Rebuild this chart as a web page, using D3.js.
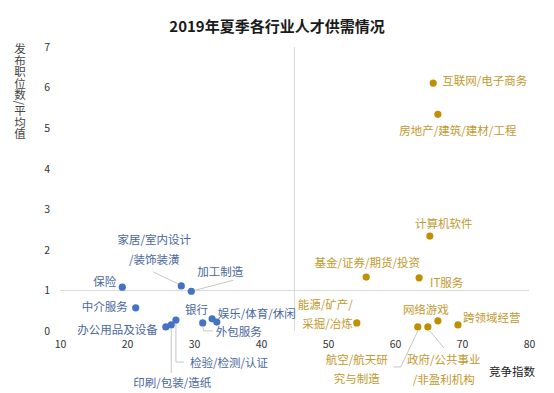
<!DOCTYPE html>
<html><head><meta charset="utf-8">
<script src="https://cdn.jsdelivr.net/npm/d3@7"></script>
<style>
body{margin:0;background:#fff}
svg{display:block}
text{font-family:"Noto Sans CJK SC","Noto Sans",sans-serif}
</style>
</head><body><svg id="c" width="554" height="393"></svg>
<script>
// ---- data ----
const blueNames = ["保险","中介服务","办公用品及设备","印刷/包装/造纸","检验/检测/认证","家居/室内设计/装饰装潢","加工制造","外包服务","银行","娱乐/体育/休闲"];
const blueX = [19.3, 21.3, 25.8, 26.6, 27.3, 28.1, 29.6, 31.3, 32.7, 33.4];
const blueY = [1.08, 0.57, 0.10, 0.15, 0.27, 1.11, 0.98, 0.20, 0.30, 0.22];
const goldNames = ["互联网/电子商务","房地产/建筑/建材/工程","计算机软件","基金/证券/期货/投资","IT服务","能源/矿产/采掘/冶炼","网络游戏","航空/航天研究与制造","政府/公共事业/非盈利机构","跨领域经营"];
const goldX = [65.7, 66.4, 65.2, 55.7, 63.6, 54.3, 66.4, 63.4, 64.9, 69.4];
const goldY = [6.11, 5.34, 2.34, 1.33, 1.31, 0.20, 0.25, 0.10, 0.10, 0.15];
const xTicks = [10, 20, 30, 40, 50, 60, 70, 80];
const yTicks = [0, 1, 2, 3, 4, 5, 6, 7];
const crossX = 45, crossY = 1;
const title = "2019年夏季各行业人才供需情况";
const xTitle = "竞争指数";
const yTitle = "发布职位数/平均值";

// ---- label layout (relative to point) ----
const layout = {
  "保险": {dx:-6, dy:-6, a:"end"},
  "中介服务": {dx:-8, dy:-2, a:"end"},
  "办公用品及设备": {dx:-8, dy:2, a:"end"},
  "印刷/包装/造纸": {dx:1, dy:57, a:"middle", leader:[[0,4],[0,48]]},
  "检验/检测/认证": {dx:14, dy:42, a:"start", leader:[[0,4],[0,42],[8,42]]},
  "家居/室内设计/装饰装潢": {dx:-27, dy:-47, a:"middle", lines:["家居/室内设计","/装饰装潢"], lh:20, leader:[[-28,-14],[-3,-2]]},
  "加工制造": {dx:6, dy:-20, a:"start", leader:[[4,-1],[42,-11]]},
  "外包服务": {dx:13, dy:8, a:"start", leader:[[0,4],[1,8],[10,8]]},
  "银行": {dx:-4, dy:-10, a:"end"},
  "娱乐/体育/休闲": {dx:1, dy:-9, a:"start"},
  "互联网/电子商务": {dx:9, dy:-3, a:"start"},
  "房地产/建筑/建材/工程": {dx:20, dy:16, a:"middle"},
  "计算机软件": {dx:14, dy:-13, a:"middle"},
  "基金/证券/期货/投资": {dx:1, dy:-15, a:"middle"},
  "IT服务": {dx:11, dy:4, a:"start"},
  "能源/矿产/采掘/冶炼": {dx:-4, dy:-19, a:"end", lines:["能源/矿产/","采掘/冶炼"], lh:19},
  "网络游戏": {dx:-12, dy:-12, a:"middle"},
  "航空/航天研究与制造": {dx:-61, dy:32, a:"middle", lines:["航空/航天研","究与制造"], lh:19, leader:[[0,4],[-17,40],[-24,40]]},
  "政府/公共事业/非盈利机构": {dx:16, dy:32, a:"middle", lines:["政府/公共事业","/非盈利机构"], lh:20, leader:[[2,4],[16,21]]},
  "跨领域经营": {dx:5, dy:-8, a:"start"}
};

const svg = d3.select("#c");
const x = d3.scaleLinear().domain([10, 80]).range([60, 529]);
const y = d3.scaleLinear().domain([0, 7]).range([331, 47]);

// title
svg.append("text").attr("x", 277).attr("y", 25).attr("text-anchor","middle")
  .attr("dominant-baseline","central").attr("font-size", 15).attr("font-weight","bold")
  .attr("fill","#1a1a1a").text(title);

// cross lines (axes)
svg.append("line").attr("x1", x(10)).attr("x2", x(80)).attr("y1", y(crossY)).attr("y2", y(crossY))
  .attr("stroke","#d9d9d9").attr("stroke-width",1);
svg.append("line").attr("x1", x(crossX)).attr("x2", x(crossX)).attr("y1", y(0)).attr("y2", y(7))
  .attr("stroke","#d9d9d9").attr("stroke-width",1);

// axes tick labels via d3 axes (low position)
const xAxis = d3.axisBottom(x).tickValues(xTicks).tickFormat(d3.format("d")).tickSize(0).tickPadding(0);
const gx = svg.append("g").attr("transform", `translate(0,${y(0)+10})`).call(xAxis);
gx.select(".domain").remove();
gx.selectAll("text").attr("font-size", 10.5).attr("fill","#333").attr("font-family",'"Noto Sans CJK SC",sans-serif');
const yAxis = d3.axisLeft(y).tickValues(yTicks).tickFormat(d3.format("d")).tickSize(0).tickPadding(0);
const gy = svg.append("g").attr("transform", `translate(${x(10)-10},0)`).call(yAxis);
gy.select(".domain").remove();
gy.selectAll("text").attr("font-size", 10.5).attr("fill","#333").attr("font-family",'"Noto Sans CJK SC",sans-serif');

// axis titles
svg.append("text").attr("x", 512).attr("y", 371).attr("text-anchor","middle")
  .attr("dominant-baseline","central").attr("font-size", 11.5).attr("fill","#222").text(xTitle);
svg.append("text").attr("x", 20).attr("y", 43)
  .attr("font-size", 11.5).attr("fill","#444")
  .style("writing-mode","vertical-rl").style("text-orientation","mixed")
  .text(yTitle);

function drawSeries(names, xs, ys, dotColor, textColor) {
  const data = names.map((n, i) => ({name: n, x: xs[i], y: ys[i]}));
  const g = svg.append("g");
  data.forEach(d => {
    const L = layout[d.name], px = x(d.x), py = y(d.y);
    if (L.leader) {
      g.append("path").attr("d", d3.line()(L.leader.map(p => [px + p[0], py + p[1]])))
        .attr("fill","none").attr("stroke","#bfbfbf").attr("stroke-width",0.9);
    }
  });
  g.selectAll("circle").data(data).join("circle")
    .attr("cx", d => x(d.x)).attr("cy", d => y(d.y)).attr("r", 3.6).attr("fill", dotColor);
  data.forEach(d => {
    const L = layout[d.name], px = x(d.x), py = y(d.y);
    const lines = L.lines || [d.name];
    const t = g.append("text").attr("text-anchor", L.a).attr("font-size", 11.5).attr("fill", textColor);
    lines.forEach((s, i) => {
      t.append("tspan").attr("x", px + L.dx).attr("y", py + L.dy + i * (L.lh || 0))
        .attr("dominant-baseline","central").text(s);
    });
  });
}
drawSeries(blueNames, blueX, blueY, "#4472C4", "#4a679c");
drawSeries(goldNames, goldX, goldY, "#BF9000", "#bf9a30");
</script>
</body></html>
